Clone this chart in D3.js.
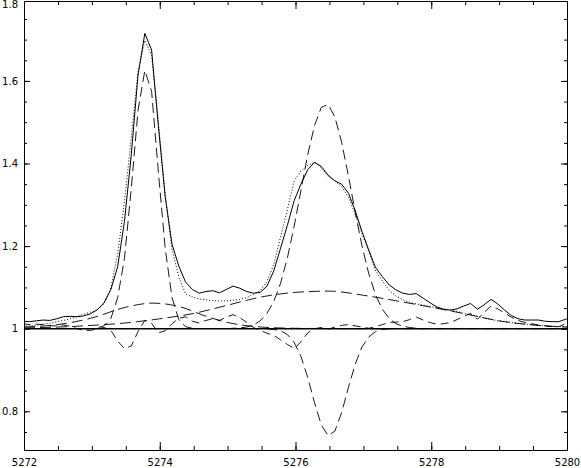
<!DOCTYPE html>
<html>
<head>
<meta charset="utf-8">
<script src="https://cdn.jsdelivr.net/npm/d3@7"></script>
<style>
   body { margin: 0; background: #fff; }
   svg { display: block; }
</style>
</head>
<body>
<svg class="lineprofile" width="581" height="468"></svg>
<script>
// wavelength grid of the observed spectrum (Angstrom)
var wavelength = [
   5271.98, 5272.08, 5272.18, 5272.28, 5272.38, 5272.48, 5272.58, 5272.68, 5272.78, 5272.88,
   5272.98, 5273.08, 5273.18, 5273.28, 5273.38, 5273.48, 5273.58, 5273.68, 5273.78, 5273.88,
   5273.98, 5274.08, 5274.18, 5274.28, 5274.38, 5274.48, 5274.58, 5274.68, 5274.78, 5274.88,
   5274.98, 5275.08, 5275.18, 5275.28, 5275.38, 5275.48, 5275.58, 5275.68, 5275.78, 5275.88,
   5275.98, 5276.08, 5276.18, 5276.28, 5276.38, 5276.48, 5276.58, 5276.68, 5276.78, 5276.88,
   5276.98, 5277.08, 5277.18, 5277.28, 5277.38, 5277.48, 5277.58, 5277.68, 5277.78, 5277.88,
   5277.98, 5278.08, 5278.18, 5278.28, 5278.38, 5278.48, 5278.58, 5278.68, 5278.78, 5278.88,
   5278.98, 5279.08, 5279.18, 5279.28, 5279.38, 5279.48, 5279.58, 5279.68, 5279.78, 5279.88,
   5279.98, 5280.08
];

var observed = [
   1.018, 1.017, 1.019, 1.021, 1.020, 1.024, 1.029, 1.030, 1.029, 1.031,
   1.036, 1.046, 1.063, 1.095, 1.150, 1.260, 1.420, 1.614, 1.715, 1.675,
   1.490, 1.320, 1.205, 1.152, 1.113, 1.095, 1.086, 1.090, 1.092, 1.087,
   1.095, 1.103, 1.098, 1.090, 1.086, 1.088, 1.103, 1.140, 1.195, 1.250,
   1.310, 1.350, 1.385, 1.403, 1.393, 1.372, 1.358, 1.350, 1.328, 1.286,
   1.235, 1.190, 1.148, 1.126, 1.106, 1.094, 1.086, 1.083, 1.085, 1.074,
   1.063, 1.053, 1.047, 1.045, 1.048, 1.055, 1.061, 1.047, 1.058, 1.071,
   1.060, 1.045, 1.032, 1.024, 1.021, 1.021, 1.021, 1.018, 1.017, 1.017,
   1.023, 1.027
];

var fitTotal = [
   1.006, 1.007, 1.008, 1.011, 1.013, 1.017, 1.020, 1.024, 1.029, 1.035,
   1.040, 1.046, 1.060, 1.099, 1.180, 1.308, 1.462, 1.621, 1.698, 1.662,
   1.500, 1.325, 1.193, 1.127, 1.084, 1.077, 1.072, 1.070, 1.068, 1.067,
   1.067, 1.069, 1.071, 1.075, 1.083, 1.092, 1.114, 1.156, 1.222, 1.288,
   1.358, 1.382, 1.395, 1.403, 1.390, 1.369, 1.358, 1.344, 1.318, 1.278,
   1.230, 1.186, 1.140, 1.116, 1.093, 1.079, 1.070, 1.064, 1.060, 1.057,
   1.054, 1.051, 1.048, 1.045, 1.042, 1.037, 1.033, 1.030, 1.026, 1.023,
   1.019, 1.017, 1.015, 1.013, 1.011, 1.010, 1.008, 1.007, 1.006, 1.005,
   1.004, 1.004
];

var residual = [
   1.012, 1.010, 1.011, 1.010, 1.007, 1.007, 1.009, 1.006, 1.000, 0.996,
   0.996, 1.000, 1.003, 0.996, 0.970, 0.952, 0.958, 0.993, 1.020, 1.013,
   0.990, 0.995, 1.012, 1.025, 1.029, 1.018, 1.014, 1.020, 1.024, 1.020,
   1.028, 1.034, 1.027, 1.015, 1.003, 0.996, 0.989, 0.984, 0.973, 0.962,
   0.952, 0.968, 0.990, 1.000, 1.003, 0.999, 1.004, 1.008, 1.010, 1.007,
   1.004, 1.001, 1.005, 1.010, 1.015, 1.016, 1.017, 1.022, 1.028, 1.021,
   1.015, 1.011, 1.012, 1.015, 1.022, 1.030, 1.037, 1.023, 1.040, 1.055,
   1.048, 1.038, 1.028, 1.020, 1.015, 1.012, 1.009, 1.007, 1.005, 1.005,
   1.012, 1.018
];

// narrow emission component
var narrowWave = [5272.88, 5272.98, 5273.08, 5273.18, 5273.28, 5273.38, 5273.48, 5273.58, 5273.68,
   5273.78, 5273.88, 5273.98, 5274.08, 5274.18, 5274.28, 5274.38, 5274.48, 5274.58];
var narrowFlux = [1.000, 1.000, 1.002, 1.007, 1.025, 1.075, 1.170, 1.339, 1.529,
   1.625, 1.575, 1.379, 1.195, 1.076, 1.022, 1.005, 1.001, 1.000];

// second emission component
var secondWave = [5274.98, 5275.08, 5275.18, 5275.28, 5275.38, 5275.48, 5275.58, 5275.68, 5275.78, 5275.88,
   5275.98, 5276.08, 5276.18, 5276.28, 5276.38, 5276.48, 5276.58, 5276.68, 5276.78, 5276.88,
   5276.98, 5277.08, 5277.18, 5277.28, 5277.38, 5277.48, 5277.58, 5277.68, 5277.78, 5277.88];
var secondFlux = [1.000, 1.001, 1.002, 1.004, 1.009, 1.019, 1.037, 1.066, 1.110, 1.171,
   1.248, 1.335, 1.421, 1.492, 1.536, 1.543, 1.513, 1.451, 1.370, 1.282,
   1.200, 1.133, 1.082, 1.047, 1.025, 1.012, 1.006, 1.003, 1.001, 1.000];

// absorption component
var absorptionWave = [5275.58, 5275.68, 5275.78, 5275.88, 5275.98, 5276.08, 5276.18, 5276.28, 5276.38, 5276.48,
   5276.58, 5276.68, 5276.78, 5276.88, 5276.98, 5277.08, 5277.18, 5277.28, 5277.38];
var absorptionFlux = [1.000, 0.998, 0.995, 0.986, 0.967, 0.933, 0.882, 0.821, 0.767, 0.741,
   0.752, 0.797, 0.858, 0.914, 0.956, 0.980, 0.993, 0.998, 1.000];

// broad components under the two lines
var broadBlueWave = [5272.0, 5272.5, 5273.0, 5273.5, 5273.9, 5274.3, 5274.7, 5275.0, 5275.5, 5276.0, 5277.0, 5278.0, 5279.0, 5280.0];
var broadBlueFlux = [1.004, 1.010, 1.026, 1.052, 1.062, 1.053, 1.029, 1.015, 1.004, 1.001, 1.000, 1.000, 1.000, 1.000];

var broadRedWave = [5272.0, 5272.5, 5273.0, 5273.5, 5274.0, 5274.5, 5275.0, 5275.5, 5276.0, 5276.5,
   5277.0, 5277.5, 5278.0, 5278.5, 5279.0, 5279.5, 5280.0];
var broadRedFlux = [1.002, 1.004, 1.008, 1.014, 1.024, 1.037, 1.057, 1.077, 1.088, 1.091,
   1.081, 1.067, 1.052, 1.036, 1.019, 1.009, 1.004];

var continuumLevel = [1, 1];
var continuumWave = [5272, 5280];

var xTickValues = [5272, 5274, 5276, 5278, 5280];
var yTickValues = [0.8, 1, 1.2, 1.4, 1.6, 1.8];

(function drawProfile() {
   var svg = d3.select('svg.lineprofile');

   var bounds = {left: 24, right: 567, top: 1, bottom: 450};

   var x = d3.scaleLinear().domain([5272, 5280]).range([bounds.left, bounds.right]);
   var y = d3.scaleLinear().domain([0.7063, 1.7935]).range([bounds.bottom, bounds.top]);

   svg.append('rect')
      .attr('width', 581)
      .attr('height', 468)
      .attr('fill', '#fff');

   svg.append('clipPath')
      .attr('id', 'plotclip')
      .append('rect')
      .attr('x', bounds.left)
      .attr('y', bounds.top)
      .attr('width', bounds.right - bounds.left)
      .attr('height', bounds.bottom - bounds.top);

   var plot = svg.append('g').attr('clip-path', 'url(#plotclip)');

   function pairUp(xs, ys) {
      return xs.map(function (w, i) {
         return [w, ys[i]];
      });
   }

   function drawSeries(xs, ys, dash, width, curve) {
      var line = d3.line()
         .x(function (d) { return x(d[0]); })
         .y(function (d) { return y(d[1]); })
         .curve(curve || d3.curveLinear);

      plot.append('path')
         .datum(pairUp(xs, ys))
         .attr('d', line)
         .attr('fill', 'none')
         .attr('stroke', '#000')
         .attr('stroke-width', width)
         .attr('stroke-dasharray', dash);
   }

   drawSeries(continuumWave, continuumLevel, null, 1.6);
   drawSeries(broadBlueWave, broadBlueFlux, '11,5', 0.9, d3.curveMonotoneX);
   drawSeries(broadRedWave, broadRedFlux, '11,5', 0.9, d3.curveMonotoneX);
   drawSeries(narrowWave, narrowFlux, '10,5', 0.9);
   drawSeries(secondWave, secondFlux, '10,5', 0.9);
   drawSeries(absorptionWave, absorptionFlux, '10,5', 0.9);
   drawSeries(wavelength, residual, '8,5', 0.9);
   drawSeries(wavelength, fitTotal, '1,2', 1);
   drawSeries(wavelength, observed, null, 1);

   // frame with inward ticks on all four sides
   var font = function (g) {
      g.attr('font-family', '"DejaVu Sans", sans-serif').attr('font-size', 10);
      g.select('.domain').remove();
   };

   svg.append('g')
      .attr('transform', 'translate(0,' + bounds.bottom + ')')
      .call(d3.axisBottom(x).tickValues(x.ticks(16)).tickSize(-4).tickFormat(''))
      .call(font);

   svg.append('g')
      .attr('transform', 'translate(0,' + bounds.bottom + ')')
      .call(d3.axisBottom(x).tickValues(xTickValues).tickSize(-8).tickPadding(9)
         .tickFormat(function (d) { return String(d); }))
      .call(font);

   svg.append('g')
      .attr('transform', 'translate(0,' + bounds.top + ')')
      .call(d3.axisTop(x).tickValues(x.ticks(16)).tickSize(-4).tickFormat(''))
      .call(font);

   svg.append('g')
      .attr('transform', 'translate(0,' + bounds.top + ')')
      .call(d3.axisTop(x).tickValues(xTickValues).tickSize(-8).tickFormat(''))
      .call(font);

   svg.append('g')
      .attr('transform', 'translate(' + bounds.left + ',0)')
      .call(d3.axisLeft(y).tickValues(y.ticks(20)).tickSize(-3).tickFormat(''))
      .call(font);

   var leftAxis = svg.append('g')
      .attr('transform', 'translate(' + bounds.left + ',0)')
      .call(d3.axisLeft(y).tickValues(yTickValues).tickSize(-6).tickPadding(6)
         .tickFormat(function (d) { return String(d); }))
      .call(font);

   // the top label sits on the upper edge; nudge it so it stays readable
   leftAxis.selectAll('.tick text')
      .filter(function (d) { return d === 1.8; })
      .attr('dy', '0.95em');

   svg.append('g')
      .attr('transform', 'translate(' + bounds.right + ',0)')
      .call(d3.axisRight(y).tickValues(y.ticks(20)).tickSize(-3).tickFormat(''))
      .call(font);

   svg.append('g')
      .attr('transform', 'translate(' + bounds.right + ',0)')
      .call(d3.axisRight(y).tickValues(yTickValues).tickSize(-6).tickFormat(''))
      .call(font);

   svg.append('rect')
      .attr('x', bounds.left + 0.5)
      .attr('y', bounds.top + 0.5)
      .attr('width', bounds.right - bounds.left)
      .attr('height', bounds.bottom - bounds.top)
      .attr('fill', 'none')
      .attr('stroke', '#000')
      .attr('stroke-width', 1);
})();
</script>
</body>
</html>
